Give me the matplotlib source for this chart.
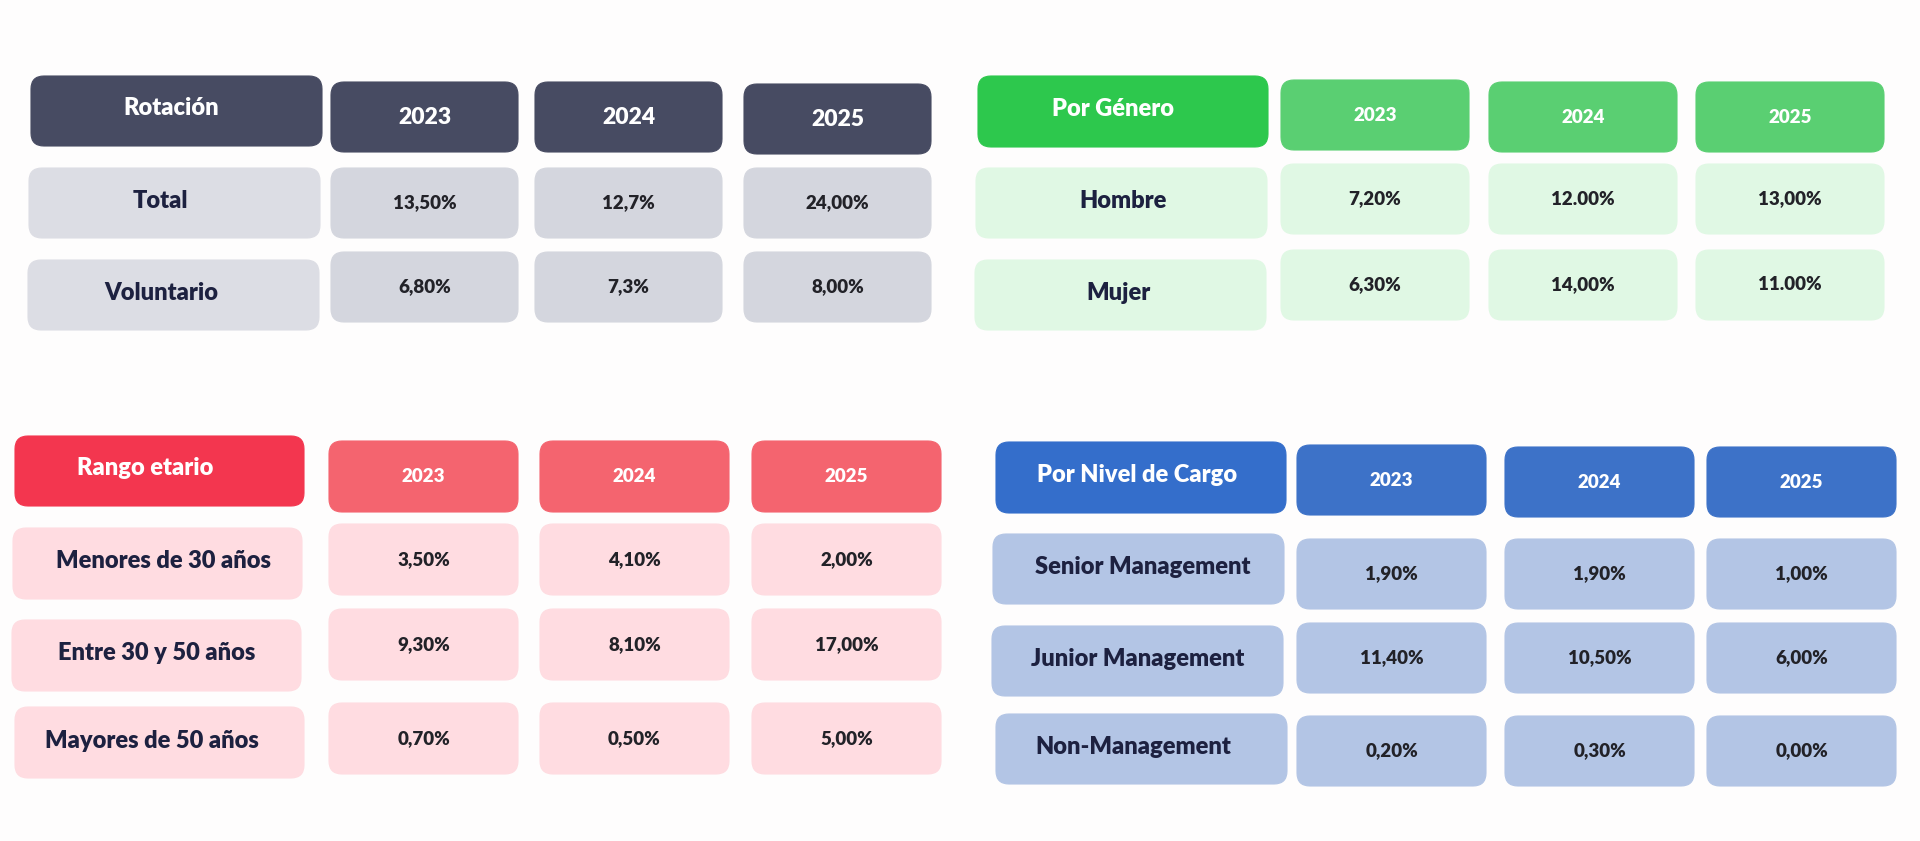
import matplotlib.pyplot as plt
from matplotlib.patches import FancyBboxPatch

years = ['2023', '2024', '2025']

rot_rows = ['Total', 'Voluntario']
rot_vals = [['13,50%', '12,7%', '24,00%'],
            ['6,80%', '7,3%', '8,00%']]

gen_rows = ['Hombre', 'Mujer']
gen_vals = [['7,20%', '12.00%', '13,00%'],
            ['6,30%', '14,00%', '11.00%']]

edad_rows = ['Menores de 30 años', 'Entre 30 y 50 años', 'Mayores de 50 años']
edad_vals = [['3,50%', '4,10%', '2,00%'],
             ['9,30%', '8,10%', '17,00%'],
             ['0,70%', '0,50%', '5,00%']]

cargo_rows = ['Senior Management', 'Junior Management', 'Non-Management']
cargo_vals = [['1,90%', '1,90%', '1,00%'],
              ['11,40%', '10,50%', '6,00%'],
              ['0,20%', '0,30%', '0,00%']]

FONT = ['Lato', 'DejaVu Sans']
DARK = '#1d2140'


def box(ax, x, y, w, h, color, r=13):
    p = FancyBboxPatch((x + r, y + r), w - 2 * r, h - 2 * r,
                       boxstyle="round,pad=%d" % r, fc=color, ec=color,
                       lw=0.8)
    ax.add_patch(p)


def text(ax, x, y, s, size, color, weight='bold'):
    ax.text(x, y, s, ha='center', va='center', fontsize=size,
            color=color, fontweight=weight, family=FONT)


def draw_table(ax, t):
    hx, hy, hw, hh = t['header']
    box(ax, hx, hy, hw, hh, t['c_head'])
    text(ax, hx + hw / 2 + t['title_dx'], hy + hh / 2 - 3, t['title'], 17, 'white', 'heavy')
    for i, yr in enumerate(years):
        x = t['cols'][i]
        y = t['year_y'][i]
        box(ax, x, y, t['cw'], t['ch'], t['c_year'])
        text(ax, x + t['cw'] / 2, y + t['ch'] / 2, yr, t['year_size'], 'white', 'heavy')
    for j, name in enumerate(t['rows']):
        lx, ly = t['lab_x'][j], t['lab_y'][j]
        box(ax, lx, ly, t['lw'], t['ch'], t['c_lab'])
        text(ax, lx + t['lw'] / 2 + t['lab_dx'][j], ly + t['ch'] / 2 - 2, name, 17, DARK, 'heavy')
        for i, v in enumerate(t['vals'][j]):
            x = t['cols'][i]
            y = t['val_y'][j]
            box(ax, x, y, t['cw'], t['ch'], t['c_cell'])
            text(ax, x + t['cw'] / 2, y + t['ch'] / 2, v, 13.5, '#222228', 'heavy')


tables = [
    dict(title='Rotación', rows=rot_rows, vals=rot_vals, title_dx=-5,
         header=(31, 76, 291, 70), cols=[331, 535, 744], year_y=[82, 82, 84],
         cw=187, ch=70, lab_x=[29, 28], lab_y=[168, 260], lw=291, lab_dx=[-14, -12],
         val_y=[168, 252], year_size=16.5,
         c_head='#474b62', c_year='#474b62', c_lab='#dcdde4', c_cell='#d4d6de'),
    dict(title='Por Género', rows=gen_rows, vals=gen_vals, title_dx=-10,
         header=(978, 76, 290, 71), cols=[1281, 1489, 1696], year_y=[80, 82, 82],
         cw=188, ch=70, lab_x=[976, 975], lab_y=[168, 260], lw=291, lab_dx=[2, -2],
         val_y=[164, 250], year_size=13.5,
         c_head='#2dc84d', c_year='#5acf72', c_lab='#e0f8e4', c_cell='#e0f8e4'),
    dict(title='Rango etario', rows=edad_rows, vals=edad_vals, title_dx=-14,
         header=(15, 436, 289, 70), cols=[329, 540, 752], year_y=[441, 441, 441],
         cw=189, ch=71, lab_x=[13, 12, 15], lab_y=[528, 620, 707], lw=289, lab_dx=[6, 0, -8],
         val_y=[524, 609, 703], year_size=13.5,
         c_head='#f3364f', c_year='#f4646f', c_lab='#ffdce1', c_cell='#ffdce1'),
    dict(title='Por Nivel de Cargo', rows=cargo_rows, vals=cargo_vals, title_dx=-4,
         header=(996, 442, 290, 71), cols=[1297, 1505, 1707], year_y=[445, 447, 447],
         cw=189, ch=70, lab_x=[993, 992, 996], lab_y=[534, 626, 714], lw=291, lab_dx=[4, 0, -8],
         val_y=[539, 623, 716], year_size=13.5,
         c_head='#346ecb', c_year='#3d72c8', c_lab='#b3c5e5', c_cell='#b3c5e5'),
]

fig = plt.figure(figsize=(19.2, 8.41), dpi=100)
fig.patch.set_facecolor('#fefdfd')
ax = fig.add_axes([0, 0, 1, 1])
ax.set_xlim(0, 1920)
ax.set_ylim(841, 0)
ax.axis('off')

for t in tables:
    draw_table(ax, t)

fig.savefig('out.png', dpi=100, facecolor=fig.get_facecolor())
